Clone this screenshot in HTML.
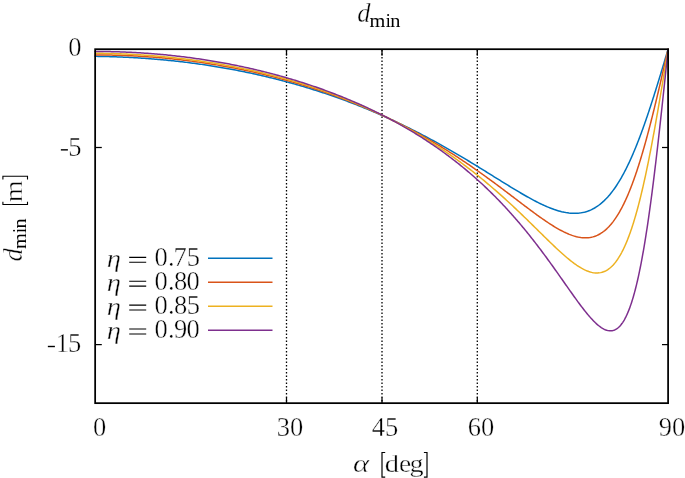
<!DOCTYPE html>
<html><head><meta charset="utf-8"><style>
html,body{margin:0;padding:0;background:#fff;}
svg{display:block;will-change:transform;}
text{font-family:"Liberation Serif",serif;fill:#000;stroke:#fff;stroke-width:0.4px;}
text.s{stroke:none;}
.i{font-style:italic;}
</style></head><body>
<svg width="685" height="478" viewBox="0 0 685 478">
<rect width="685" height="478" fill="#fff"/>
<g stroke="#000" stroke-width="1.3" stroke-dasharray="1.4 2.1" fill="none">
<line x1="286.5" y1="50" x2="286.5" y2="402.5"/>
<line x1="382" y1="50" x2="382" y2="402.5"/>
<line x1="477.3" y1="50" x2="477.3" y2="402.5"/>
</g>
<g stroke="#000" stroke-width="1.25" fill="none">
<line x1="95" y1="147.5" x2="101.8" y2="147.5"/>
<line x1="95" y1="344.6" x2="101.8" y2="344.6"/>
<line x1="662" y1="147.5" x2="668" y2="147.5"/>
<line x1="662" y1="344.6" x2="668" y2="344.6"/>
<line x1="286.5" y1="50" x2="286.5" y2="55.7"/>
<line x1="382" y1="50" x2="382" y2="55.7"/>
<line x1="477.3" y1="50" x2="477.3" y2="55.7"/>
<line x1="286.5" y1="397.5" x2="286.5" y2="403"/>
<line x1="382" y1="397.5" x2="382" y2="403"/>
<line x1="477.3" y1="397.5" x2="477.3" y2="403"/>
</g>
<g fill="none" stroke-width="1.5" stroke-linejoin="round" stroke-linecap="round">
<path stroke="#0072bd" d="M95.10,56.36 L96.60,56.37 L98.11,56.40 L99.61,56.42 L101.11,56.44 L102.62,56.47 L104.12,56.50 L105.62,56.54 L107.12,56.57 L108.63,56.61 L110.13,56.65 L111.63,56.70 L113.14,56.74 L114.64,56.79 L116.14,56.85 L117.64,56.90 L119.15,56.96 L120.65,57.02 L122.15,57.08 L123.65,57.14 L125.15,57.21 L126.65,57.28 L128.16,57.36 L129.66,57.43 L131.16,57.51 L132.66,57.59 L134.16,57.68 L135.66,57.76 L137.16,57.85 L138.66,57.95 L140.16,58.04 L141.66,58.14 L143.16,58.24 L144.66,58.34 L146.16,58.45 L147.66,58.56 L149.16,58.67 L150.66,58.78 L152.16,58.90 L153.66,59.02 L155.16,59.14 L156.65,59.27 L158.15,59.40 L159.65,59.53 L161.15,59.66 L162.64,59.80 L164.14,59.94 L165.64,60.08 L167.13,60.23 L168.63,60.38 L170.13,60.53 L171.62,60.68 L173.12,60.84 L174.61,61.00 L176.11,61.16 L177.60,61.33 L179.09,61.50 L180.59,61.67 L182.08,61.84 L183.57,62.02 L185.07,62.20 L186.56,62.38 L188.05,62.57 L189.54,62.76 L191.03,62.95 L192.52,63.14 L194.01,63.34 L195.50,63.54 L196.99,63.74 L198.48,63.95 L199.97,64.16 L201.46,64.37 L202.95,64.59 L204.43,64.81 L205.92,65.03 L207.41,65.25 L208.89,65.48 L210.38,65.71 L211.86,65.94 L213.35,66.18 L214.83,66.42 L216.32,66.66 L217.80,66.91 L219.28,67.15 L220.76,67.41 L222.25,67.66 L223.73,67.92 L225.21,68.18 L226.69,68.44 L228.17,68.71 L229.65,68.98 L231.13,69.25 L232.60,69.52 L234.08,69.80 L235.56,70.08 L237.03,70.37 L238.51,70.66 L239.98,70.95 L241.46,71.24 L242.93,71.54 L244.40,71.84 L245.88,72.14 L247.35,72.45 L248.82,72.76 L250.29,73.07 L251.76,73.38 L253.23,73.70 L254.70,74.02 L256.17,74.35 L257.63,74.68 L259.10,75.01 L260.57,75.34 L262.03,75.68 L263.50,76.02 L264.96,76.36 L266.42,76.71 L267.88,77.06 L269.35,77.41 L270.81,77.77 L272.27,78.13 L273.72,78.49 L275.18,78.85 L276.64,79.22 L278.10,79.59 L279.55,79.97 L281.01,80.34 L282.46,80.73 L283.92,81.11 L285.37,81.50 L286.82,81.89 L288.27,82.28 L289.72,82.68 L291.17,83.08 L292.62,83.48 L294.07,83.89 L295.51,84.30 L296.96,84.71 L298.40,85.12 L299.85,85.54 L301.29,85.97 L302.73,86.39 L304.17,86.82 L305.61,87.25 L307.05,87.69 L308.49,88.12 L309.93,88.57 L311.36,89.01 L312.80,89.46 L314.23,89.91 L315.67,90.36 L317.10,90.82 L318.53,91.28 L319.96,91.74 L321.39,92.21 L322.82,92.68 L324.24,93.15 L325.67,93.63 L327.09,94.11 L328.52,94.59 L329.94,95.08 L331.36,95.57 L332.78,96.06 L334.20,96.56 L335.62,97.06 L337.04,97.56 L338.45,98.06 L339.87,98.57 L341.28,99.08 L342.69,99.60 L344.10,100.12 L345.51,100.64 L346.92,101.16 L348.33,101.69 L349.74,102.22 L351.14,102.76 L352.55,103.29 L353.95,103.83 L355.35,104.38 L356.75,104.92 L358.15,105.47 L359.55,106.03 L360.94,106.58 L362.34,107.14 L363.73,107.71 L365.13,108.27 L366.52,108.84 L367.91,109.42 L369.30,109.99 L370.68,110.57 L372.07,111.15 L373.45,111.74 L374.84,112.33 L376.22,112.92 L377.60,113.51 L378.98,114.11 L380.36,114.71 L381.73,115.31 L383.11,115.92 L384.48,116.53 L385.86,117.15 L387.23,117.76 L388.60,118.38 L389.96,119.01 L391.33,119.63 L392.70,120.26 L394.06,120.89 L395.42,121.53 L396.78,122.17 L398.14,122.81 L399.50,123.45 L400.86,124.10 L402.22,124.75 L403.57,125.40 L404.92,126.06 L406.27,126.72 L407.62,127.38 L408.97,128.04 L410.32,128.71 L411.66,129.38 L413.01,130.06 L414.35,130.74 L415.69,131.42 L417.03,132.10 L418.37,132.78 L419.70,133.47 L421.04,134.16 L422.37,134.86 L423.70,135.55 L425.03,136.25 L426.36,136.96 L427.69,137.66 L429.02,138.37 L430.34,139.08 L431.67,139.79 L432.99,140.51 L434.31,141.23 L435.63,141.95 L436.94,142.67 L438.26,143.40 L439.58,144.13 L440.89,144.86 L442.20,145.59 L443.51,146.33 L444.82,147.07 L446.13,147.81 L447.44,148.55 L448.74,149.30 L450.05,150.05 L451.35,150.80 L452.65,151.55 L453.95,152.30 L455.25,153.06 L456.55,153.82 L457.84,154.58 L459.14,155.34 L460.43,156.11 L461.73,156.88 L463.02,157.64 L464.31,158.41 L465.60,159.19 L466.89,159.96 L468.17,160.74 L469.46,161.51 L470.75,162.29 L472.03,163.07 L473.32,163.86 L474.60,164.64 L475.88,165.42 L477.16,166.21 L478.44,167.00 L479.72,167.79 L481.00,168.57 L482.28,169.37 L483.56,170.16 L484.84,170.95 L486.11,171.74 L487.39,172.53 L488.67,173.33 L489.94,174.12 L491.22,174.92 L492.50,175.71 L493.77,176.51 L495.05,177.30 L496.32,178.10 L497.60,178.89 L498.88,179.69 L500.15,180.48 L501.43,181.27 L502.71,182.07 L503.99,182.86 L505.26,183.65 L506.54,184.44 L507.82,185.23 L509.11,186.01 L510.39,186.80 L511.67,187.58 L512.96,188.36 L514.24,189.14 L515.53,189.91 L516.82,190.69 L518.11,191.46 L519.41,192.22 L520.70,192.98 L522.00,193.74 L523.30,194.50 L524.60,195.25 L525.91,195.99 L527.22,196.73 L528.53,197.46 L529.85,198.19 L531.16,198.91 L532.49,199.63 L533.81,200.33 L535.15,201.03 L536.48,201.72 L537.82,202.40 L539.17,203.07 L540.52,203.73 L541.88,204.38 L543.24,205.01 L544.61,205.64 L545.98,206.25 L547.36,206.84 L548.75,207.42 L550.14,207.98 L551.55,208.52 L552.96,209.04 L554.37,209.55 L555.80,210.03 L557.23,210.48 L558.67,210.91 L560.12,211.31 L561.58,211.69 L563.04,212.03 L564.51,212.34 L565.99,212.61 L567.47,212.84 L568.96,213.04 L570.46,213.19 L571.96,213.30 L573.46,213.36 L574.97,213.37 L576.47,213.32 L577.97,213.23 L579.46,213.08 L580.95,212.88 L582.43,212.61 L583.90,212.29 L585.36,211.92 L586.80,211.48 L588.22,210.99 L589.62,210.44 L591.00,209.85 L592.35,209.20 L593.68,208.50 L594.99,207.75 L596.27,206.96 L597.52,206.13 L598.74,205.26 L599.94,204.35 L601.11,203.41 L602.26,202.43 L603.38,201.43 L604.47,200.40 L605.54,199.34 L606.58,198.26 L607.61,197.15 L608.60,196.03 L609.58,194.89 L610.54,193.73 L611.48,192.55 L612.39,191.36 L613.29,190.16 L614.17,188.94 L615.04,187.71 L615.89,186.47 L616.72,185.22 L617.54,183.96 L618.34,182.69 L619.13,181.41 L619.90,180.12 L620.67,178.82 L621.42,177.52 L622.15,176.21 L622.88,174.89 L623.60,173.57 L624.30,172.25 L625.00,170.91 L625.69,169.57 L626.36,168.23 L627.03,166.89 L627.69,165.53 L628.34,164.18 L628.98,162.82 L629.62,161.46 L630.24,160.09 L630.86,158.72 L631.48,157.35 L632.08,155.97 L632.68,154.59 L633.28,153.21 L633.86,151.83 L634.45,150.44 L635.02,149.05 L635.59,147.66 L636.16,146.27 L636.72,144.88 L637.27,143.48 L637.82,142.08 L638.37,140.68 L638.91,139.28 L639.45,137.87 L639.98,136.47 L640.51,135.06 L641.03,133.65 L641.55,132.24 L642.07,130.83 L642.59,129.42 L643.10,128.00 L643.60,126.59 L644.11,125.17 L644.61,123.75 L645.10,122.33 L645.60,120.91 L646.09,119.49 L646.58,118.07 L647.06,116.65 L647.55,115.22 L648.03,113.80 L648.51,112.37 L648.98,110.95 L649.45,109.52 L649.93,108.09 L650.40,106.67 L650.86,105.24 L651.33,103.81 L651.79,102.38 L652.25,100.95 L652.71,99.52 L653.17,98.08 L653.63,96.65 L654.08,95.22 L654.53,93.79 L654.99,92.35 L655.44,90.92 L655.89,89.48 L656.33,88.05 L656.78,86.61 L657.22,85.18 L657.67,83.74 L658.11,82.30 L658.55,80.87 L658.99,79.43 L659.43,77.99 L659.87,76.55 L660.31,75.11 L660.75,73.68 L661.18,72.24 L661.62,70.80 L662.05,69.36 L662.49,67.92 L662.92,66.48 L663.36,65.04 L663.79,63.60 L664.22,62.16 L664.65,60.72 L665.08,59.28 L665.52,57.84 L665.95,56.40 L666.38,54.96 L666.81,53.52 L667.24,52.08 L667.67,50.64 L668.10,49.20"/>
<path stroke="#d95319" d="M95.10,54.94 L96.61,54.94 L98.11,54.95 L99.62,54.95 L101.12,54.96 L102.63,54.98 L104.13,54.99 L105.64,55.01 L107.15,55.03 L108.65,55.06 L110.16,55.09 L111.66,55.12 L113.17,55.15 L114.67,55.19 L116.18,55.23 L117.68,55.27 L119.19,55.32 L120.69,55.37 L122.20,55.42 L123.70,55.48 L125.21,55.54 L126.71,55.60 L128.22,55.66 L129.72,55.73 L131.22,55.80 L132.73,55.87 L134.23,55.95 L135.73,56.03 L137.24,56.11 L138.74,56.20 L140.24,56.28 L141.75,56.38 L143.25,56.47 L144.75,56.57 L146.26,56.67 L147.76,56.77 L149.26,56.88 L150.76,56.99 L152.26,57.10 L153.76,57.22 L155.26,57.34 L156.77,57.46 L158.27,57.59 L159.77,57.71 L161.27,57.85 L162.77,57.98 L164.27,58.12 L165.76,58.26 L167.26,58.40 L168.76,58.55 L170.26,58.70 L171.76,58.85 L173.26,59.01 L174.75,59.17 L176.25,59.33 L177.75,59.49 L179.24,59.66 L180.74,59.83 L182.23,60.01 L183.73,60.19 L185.22,60.37 L186.72,60.55 L188.21,60.74 L189.71,60.93 L191.20,61.12 L192.69,61.32 L194.18,61.52 L195.68,61.72 L197.17,61.92 L198.66,62.13 L200.15,62.35 L201.64,62.56 L203.13,62.78 L204.62,63.00 L206.11,63.22 L207.60,63.45 L209.08,63.68 L210.57,63.92 L212.06,64.15 L213.55,64.39 L215.03,64.64 L216.52,64.88 L218.00,65.13 L219.49,65.39 L220.97,65.64 L222.45,65.90 L223.94,66.16 L225.42,66.43 L226.90,66.70 L228.38,66.97 L229.86,67.24 L231.34,67.52 L232.82,67.80 L234.30,68.09 L235.78,68.37 L237.25,68.67 L238.73,68.96 L240.21,69.26 L241.68,69.56 L243.16,69.86 L244.63,70.17 L246.10,70.48 L247.58,70.79 L249.05,71.11 L250.52,71.43 L251.99,71.75 L253.46,72.08 L254.93,72.41 L256.40,72.74 L257.87,73.07 L259.33,73.41 L260.80,73.76 L262.27,74.10 L263.73,74.45 L265.19,74.80 L266.66,75.16 L268.12,75.52 L269.58,75.88 L271.04,76.24 L272.50,76.61 L273.96,76.98 L275.42,77.36 L276.88,77.74 L278.33,78.12 L279.79,78.50 L281.24,78.89 L282.70,79.28 L284.15,79.68 L285.60,80.07 L287.05,80.48 L288.51,80.88 L289.95,81.29 L291.40,81.70 L292.85,82.11 L294.30,82.53 L295.74,82.95 L297.19,83.38 L298.63,83.81 L300.07,84.24 L301.52,84.67 L302.96,85.11 L304.40,85.55 L305.83,85.99 L307.27,86.44 L308.71,86.89 L310.14,87.35 L311.58,87.81 L313.01,88.27 L314.44,88.73 L315.87,89.20 L317.30,89.67 L318.73,90.15 L320.16,90.62 L321.59,91.11 L323.01,91.59 L324.44,92.08 L325.86,92.57 L327.28,93.07 L328.70,93.56 L330.12,94.07 L331.54,94.57 L332.96,95.08 L334.37,95.59 L335.79,96.11 L337.20,96.63 L338.61,97.15 L340.03,97.68 L341.44,98.21 L342.84,98.74 L344.25,99.27 L345.66,99.81 L347.06,100.36 L348.46,100.90 L349.87,101.45 L351.27,102.01 L352.66,102.56 L354.06,103.13 L355.46,103.69 L356.85,104.26 L358.25,104.83 L359.64,105.40 L361.03,105.98 L362.42,106.56 L363.80,107.15 L365.19,107.73 L366.58,108.33 L367.96,108.92 L369.34,109.52 L370.72,110.12 L372.10,110.73 L373.48,111.34 L374.85,111.95 L376.23,112.57 L377.60,113.18 L378.97,113.81 L380.34,114.43 L381.70,115.06 L383.07,115.70 L384.44,116.34 L385.80,116.98 L387.16,117.62 L388.52,118.27 L389.88,118.92 L391.23,119.57 L392.59,120.23 L393.94,120.89 L395.29,121.56 L396.64,122.23 L397.99,122.90 L399.33,123.57 L400.68,124.25 L402.02,124.93 L403.36,125.62 L404.70,126.31 L406.03,127.00 L407.37,127.70 L408.70,128.40 L410.03,129.10 L411.36,129.81 L412.69,130.52 L414.02,131.23 L415.34,131.95 L416.66,132.67 L417.98,133.39 L419.30,134.12 L420.62,134.85 L421.93,135.58 L423.25,136.32 L424.56,137.06 L425.87,137.80 L427.17,138.55 L428.48,139.30 L429.78,140.06 L431.09,140.81 L432.38,141.57 L433.68,142.34 L434.98,143.10 L436.27,143.88 L437.56,144.65 L438.85,145.43 L440.14,146.21 L441.43,146.99 L442.71,147.78 L443.99,148.57 L445.27,149.36 L446.55,150.15 L447.83,150.95 L449.10,151.76 L450.37,152.56 L451.64,153.37 L452.91,154.18 L454.18,154.99 L455.44,155.81 L456.71,156.63 L457.97,157.46 L459.23,158.28 L460.48,159.11 L461.74,159.94 L462.99,160.78 L464.24,161.62 L465.49,162.46 L466.74,163.30 L467.98,164.15 L469.23,164.99 L470.47,165.85 L471.71,166.70 L472.95,167.56 L474.18,168.41 L475.42,169.28 L476.65,170.14 L477.88,171.01 L479.11,171.88 L480.34,172.75 L481.57,173.62 L482.79,174.50 L484.02,175.37 L485.24,176.25 L486.46,177.14 L487.68,178.02 L488.89,178.91 L490.11,179.79 L491.33,180.68 L492.54,181.58 L493.75,182.47 L494.96,183.37 L496.17,184.26 L497.38,185.16 L498.59,186.06 L499.79,186.96 L501.00,187.87 L502.20,188.77 L503.40,189.67 L504.61,190.58 L505.81,191.49 L507.01,192.40 L508.21,193.31 L509.41,194.22 L510.61,195.13 L511.81,196.04 L513.01,196.95 L514.20,197.86 L515.40,198.77 L516.60,199.68 L517.80,200.59 L519.00,201.50 L520.20,202.42 L521.40,203.33 L522.60,204.24 L523.80,205.14 L525.00,206.05 L526.20,206.96 L527.41,207.86 L528.61,208.77 L529.82,209.67 L531.02,210.57 L532.23,211.46 L533.45,212.36 L534.66,213.25 L535.88,214.14 L537.09,215.02 L538.32,215.90 L539.54,216.78 L540.77,217.65 L542.00,218.51 L543.23,219.37 L544.47,220.23 L545.72,221.08 L546.97,221.92 L548.22,222.75 L549.48,223.58 L550.74,224.40 L552.01,225.20 L553.29,226.00 L554.58,226.79 L555.87,227.56 L557.17,228.32 L558.48,229.07 L559.79,229.80 L561.12,230.51 L562.46,231.20 L563.80,231.88 L565.16,232.53 L566.53,233.16 L567.91,233.76 L569.30,234.33 L570.71,234.87 L572.12,235.38 L573.55,235.85 L575.00,236.28 L576.45,236.67 L577.92,237.01 L579.40,237.29 L580.88,237.52 L582.38,237.69 L583.88,237.80 L585.39,237.83 L586.89,237.79 L588.39,237.68 L589.89,237.49 L591.37,237.22 L592.83,236.87 L594.28,236.45 L595.70,235.94 L597.09,235.36 L598.44,234.72 L599.77,234.00 L601.06,233.23 L602.31,232.39 L603.53,231.51 L604.71,230.57 L605.86,229.60 L606.97,228.58 L608.05,227.53 L609.09,226.45 L610.11,225.33 L611.09,224.19 L612.05,223.03 L612.98,221.85 L613.88,220.64 L614.76,219.42 L615.62,218.18 L616.45,216.93 L617.26,215.66 L618.06,214.38 L618.83,213.09 L619.59,211.79 L620.33,210.48 L621.06,209.16 L621.77,207.83 L622.46,206.49 L623.14,205.15 L623.81,203.80 L624.47,202.45 L625.11,201.09 L625.74,199.72 L626.36,198.35 L626.97,196.97 L627.58,195.59 L628.17,194.21 L628.75,192.82 L629.32,191.42 L629.89,190.03 L630.44,188.63 L630.99,187.23 L631.53,185.82 L632.07,184.42 L632.60,183.01 L633.12,181.59 L633.63,180.18 L634.14,178.76 L634.64,177.34 L635.14,175.92 L635.63,174.50 L636.11,173.07 L636.59,171.64 L637.07,170.21 L637.54,168.78 L638.01,167.35 L638.47,165.92 L638.92,164.48 L639.38,163.05 L639.83,161.61 L640.27,160.17 L640.71,158.73 L641.15,157.29 L641.58,155.85 L642.01,154.41 L642.44,152.96 L642.86,151.52 L643.28,150.07 L643.70,148.62 L644.11,147.18 L644.52,145.73 L644.93,144.28 L645.33,142.83 L645.74,141.38 L646.14,139.93 L646.53,138.47 L646.93,137.02 L647.32,135.57 L647.71,134.11 L648.10,132.66 L648.49,131.20 L648.87,129.75 L649.25,128.29 L649.63,126.83 L650.01,125.38 L650.39,123.92 L650.76,122.46 L651.13,121.00 L651.50,119.54 L651.87,118.08 L652.24,116.62 L652.61,115.16 L652.97,113.70 L653.33,112.24 L653.70,110.78 L654.06,109.31 L654.42,107.85 L654.77,106.39 L655.13,104.93 L655.48,103.46 L655.84,102.00 L656.19,100.54 L656.54,99.07 L656.89,97.61 L657.24,96.14 L657.59,94.68 L657.94,93.21 L658.29,91.75 L658.63,90.28 L658.98,88.82 L659.32,87.35 L659.67,85.89 L660.01,84.42 L660.35,82.95 L660.69,81.49 L661.03,80.02 L661.38,78.55 L661.71,77.09 L662.05,75.62 L662.39,74.15 L662.73,72.69 L663.07,71.22 L663.41,69.75 L663.74,68.28 L664.08,66.82 L664.42,65.35 L664.75,63.88 L665.09,62.41 L665.42,60.94 L665.76,59.48 L666.09,58.01 L666.43,56.54 L666.76,55.07 L667.10,53.60 L667.43,52.14 L667.77,50.67 L668.10,49.20"/>
<path stroke="#edb120" d="M95.10,53.26 L96.60,53.27 L98.11,53.29 L99.61,53.31 L101.12,53.33 L102.62,53.36 L104.13,53.38 L105.63,53.41 L107.13,53.45 L108.64,53.48 L110.14,53.52 L111.65,53.56 L113.15,53.60 L114.65,53.65 L116.16,53.70 L117.66,53.75 L119.17,53.81 L120.67,53.86 L122.17,53.92 L123.68,53.99 L125.18,54.05 L126.68,54.12 L128.18,54.19 L129.69,54.27 L131.19,54.34 L132.69,54.42 L134.19,54.50 L135.70,54.59 L137.20,54.68 L138.70,54.77 L140.20,54.86 L141.70,54.96 L143.20,55.06 L144.71,55.16 L146.21,55.27 L147.71,55.37 L149.21,55.49 L150.71,55.60 L152.21,55.72 L153.71,55.84 L155.21,55.96 L156.71,56.09 L158.21,56.21 L159.70,56.35 L161.20,56.48 L162.70,56.62 L164.20,56.76 L165.70,56.90 L167.19,57.05 L168.69,57.20 L170.19,57.35 L171.68,57.50 L173.18,57.66 L174.68,57.82 L176.17,57.99 L177.67,58.15 L179.16,58.32 L180.66,58.50 L182.15,58.67 L183.64,58.85 L185.14,59.04 L186.63,59.22 L188.12,59.41 L189.62,59.60 L191.11,59.79 L192.60,59.99 L194.09,60.19 L195.58,60.40 L197.07,60.60 L198.56,60.81 L200.05,61.03 L201.54,61.24 L203.03,61.46 L204.52,61.68 L206.00,61.91 L207.49,62.14 L208.98,62.37 L210.46,62.60 L211.95,62.84 L213.43,63.08 L214.92,63.33 L216.40,63.57 L217.89,63.82 L219.37,64.08 L220.85,64.34 L222.33,64.60 L223.81,64.86 L225.30,65.13 L226.78,65.39 L228.26,65.67 L229.73,65.94 L231.21,66.22 L232.69,66.51 L234.17,66.79 L235.64,67.08 L237.12,67.37 L238.60,67.67 L240.07,67.97 L241.54,68.27 L243.02,68.57 L244.49,68.88 L245.96,69.19 L247.43,69.51 L248.90,69.83 L250.37,70.15 L251.84,70.47 L253.31,70.80 L254.78,71.13 L256.24,71.47 L257.71,71.80 L259.18,72.15 L260.64,72.49 L262.10,72.84 L263.57,73.19 L265.03,73.54 L266.49,73.90 L267.95,74.26 L269.41,74.63 L270.87,75.00 L272.33,75.37 L273.78,75.74 L275.24,76.12 L276.70,76.50 L278.15,76.89 L279.60,77.28 L281.06,77.67 L282.51,78.06 L283.96,78.46 L285.41,78.87 L286.86,79.27 L288.31,79.68 L289.75,80.09 L291.20,80.51 L292.64,80.93 L294.09,81.35 L295.53,81.78 L296.97,82.21 L298.41,82.64 L299.85,83.08 L301.29,83.52 L302.73,83.96 L304.16,84.41 L305.60,84.86 L307.03,85.32 L308.47,85.77 L309.90,86.24 L311.33,86.70 L312.76,87.17 L314.19,87.64 L315.62,88.12 L317.04,88.60 L318.47,89.08 L319.89,89.57 L321.31,90.06 L322.73,90.55 L324.15,91.05 L325.57,91.55 L326.99,92.06 L328.41,92.56 L329.82,93.08 L331.23,93.59 L332.65,94.11 L334.06,94.63 L335.47,95.16 L336.87,95.69 L338.28,96.22 L339.69,96.76 L341.09,97.30 L342.49,97.85 L343.89,98.40 L345.29,98.95 L346.69,99.51 L348.09,100.07 L349.48,100.63 L350.87,101.20 L352.27,101.77 L353.66,102.34 L355.05,102.92 L356.43,103.50 L357.82,104.09 L359.20,104.68 L360.58,105.27 L361.97,105.87 L363.34,106.47 L364.72,107.08 L366.10,107.69 L367.47,108.30 L368.84,108.92 L370.21,109.54 L371.58,110.16 L372.95,110.79 L374.32,111.42 L375.68,112.06 L377.04,112.70 L378.40,113.34 L379.76,113.99 L381.12,114.64 L382.47,115.29 L383.82,115.95 L385.17,116.62 L386.52,117.28 L387.87,117.95 L389.21,118.63 L390.56,119.31 L391.90,119.99 L393.24,120.67 L394.57,121.36 L395.91,122.06 L397.24,122.76 L398.57,123.46 L399.90,124.16 L401.23,124.87 L402.55,125.59 L403.88,126.30 L405.20,127.03 L406.51,127.75 L407.83,128.48 L409.14,129.21 L410.46,129.95 L411.76,130.69 L413.07,131.44 L414.38,132.19 L415.68,132.94 L416.98,133.69 L418.28,134.45 L419.57,135.22 L420.87,135.99 L422.16,136.76 L423.45,137.54 L424.73,138.32 L426.02,139.10 L427.30,139.89 L428.58,140.68 L429.86,141.48 L431.13,142.27 L432.40,143.08 L433.67,143.89 L434.94,144.70 L436.20,145.51 L437.47,146.33 L438.73,147.15 L439.98,147.98 L441.24,148.81 L442.49,149.64 L443.74,150.48 L444.99,151.32 L446.23,152.17 L447.47,153.02 L448.71,153.87 L449.95,154.73 L451.18,155.59 L452.41,156.46 L453.64,157.32 L454.87,158.20 L456.09,159.07 L457.31,159.95 L458.53,160.83 L459.75,161.72 L460.96,162.61 L462.17,163.50 L463.38,164.40 L464.58,165.30 L465.78,166.21 L466.98,167.12 L468.18,168.03 L469.37,168.94 L470.57,169.86 L471.75,170.78 L472.94,171.71 L474.12,172.64 L475.30,173.57 L476.48,174.51 L477.66,175.45 L478.83,176.39 L480.00,177.34 L481.17,178.29 L482.33,179.24 L483.49,180.19 L484.65,181.15 L485.81,182.11 L486.96,183.08 L488.12,184.05 L489.26,185.02 L490.41,185.99 L491.55,186.97 L492.70,187.95 L493.83,188.94 L494.97,189.92 L496.10,190.91 L497.23,191.90 L498.36,192.90 L499.49,193.89 L500.61,194.89 L501.74,195.90 L502.85,196.90 L503.97,197.91 L505.09,198.92 L506.20,199.93 L507.31,200.95 L508.42,201.97 L509.52,202.99 L510.63,204.01 L511.73,205.03 L512.83,206.06 L513.93,207.09 L515.02,208.12 L516.12,209.15 L517.21,210.19 L518.30,211.23 L519.39,212.26 L520.47,213.30 L521.56,214.35 L522.64,215.39 L523.73,216.43 L524.81,217.48 L525.89,218.53 L526.97,219.58 L528.04,220.63 L529.12,221.68 L530.20,222.73 L531.27,223.78 L532.35,224.84 L533.42,225.89 L534.49,226.94 L535.56,228.00 L536.64,229.06 L537.71,230.11 L538.78,231.17 L539.85,232.22 L540.92,233.28 L542.00,234.33 L543.07,235.39 L544.14,236.44 L545.22,237.50 L546.29,238.55 L547.37,239.60 L548.45,240.65 L549.53,241.69 L550.61,242.74 L551.69,243.78 L552.78,244.82 L553.87,245.86 L554.96,246.90 L556.06,247.93 L557.16,248.96 L558.26,249.98 L559.37,251.00 L560.48,252.01 L561.60,253.02 L562.72,254.02 L563.85,255.02 L564.98,256.00 L566.12,256.98 L567.27,257.95 L568.43,258.91 L569.60,259.86 L570.78,260.80 L571.96,261.72 L573.16,262.63 L574.37,263.53 L575.60,264.40 L576.83,265.26 L578.09,266.09 L579.36,266.90 L580.64,267.68 L581.95,268.43 L583.27,269.14 L584.62,269.81 L585.99,270.44 L587.37,271.02 L588.79,271.54 L590.22,271.99 L591.68,272.38 L593.15,272.67 L594.64,272.88 L596.14,272.99 L597.64,272.98 L599.14,272.87 L600.63,272.63 L602.09,272.28 L603.52,271.81 L604.91,271.23 L606.25,270.55 L607.54,269.78 L608.78,268.93 L609.97,268.01 L611.11,267.02 L612.20,265.98 L613.24,264.90 L614.24,263.77 L615.19,262.61 L616.11,261.42 L617.00,260.20 L617.85,258.96 L618.67,257.70 L619.46,256.42 L620.23,255.13 L620.97,253.82 L621.69,252.50 L622.38,251.16 L623.06,249.82 L623.72,248.47 L624.36,247.10 L624.98,245.74 L625.59,244.36 L626.18,242.98 L626.77,241.59 L627.33,240.20 L627.89,238.80 L628.43,237.39 L628.96,235.99 L629.48,234.58 L630.00,233.16 L630.50,231.74 L630.99,230.32 L631.47,228.90 L631.95,227.47 L632.42,226.04 L632.88,224.61 L633.33,223.17 L633.78,221.74 L634.22,220.30 L634.65,218.86 L635.08,217.41 L635.50,215.97 L635.92,214.52 L636.33,213.08 L636.73,211.63 L637.13,210.18 L637.53,208.72 L637.92,207.27 L638.30,205.82 L638.68,204.36 L639.06,202.90 L639.43,201.45 L639.80,199.99 L640.17,198.53 L640.53,197.07 L640.89,195.61 L641.24,194.15 L641.59,192.68 L641.94,191.22 L642.29,189.75 L642.63,188.29 L642.97,186.82 L643.30,185.36 L643.63,183.89 L643.96,182.42 L644.29,180.95 L644.62,179.48 L644.94,178.01 L645.26,176.54 L645.58,175.07 L645.89,173.60 L646.21,172.13 L646.52,170.66 L646.82,169.19 L647.13,167.71 L647.44,166.24 L647.74,164.77 L648.04,163.29 L648.34,161.82 L648.64,160.34 L648.93,158.87 L649.23,157.39 L649.52,155.92 L649.81,154.44 L650.10,152.96 L650.38,151.49 L650.67,150.01 L650.95,148.53 L651.24,147.05 L651.52,145.58 L651.80,144.10 L652.08,142.62 L652.36,141.14 L652.63,139.66 L652.91,138.18 L653.18,136.70 L653.45,135.22 L653.73,133.74 L654.00,132.26 L654.27,130.78 L654.53,129.30 L654.80,127.82 L655.07,126.34 L655.33,124.86 L655.60,123.38 L655.86,121.90 L656.12,120.42 L656.39,118.94 L656.65,117.45 L656.91,115.97 L657.17,114.49 L657.43,113.01 L657.68,111.53 L657.94,110.04 L658.20,108.56 L658.45,107.08 L658.71,105.60 L658.96,104.11 L659.22,102.63 L659.47,101.15 L659.72,99.66 L659.98,98.18 L660.23,96.70 L660.48,95.21 L660.73,93.73 L660.98,92.25 L661.23,90.76 L661.48,89.28 L661.73,87.80 L661.98,86.31 L662.22,84.83 L662.47,83.34 L662.72,81.86 L662.97,80.38 L663.21,78.89 L663.46,77.41 L663.70,75.92 L663.95,74.44 L664.20,72.95 L664.44,71.47 L664.69,69.98 L664.93,68.50 L665.18,67.02 L665.42,65.53 L665.66,64.05 L665.91,62.56 L666.15,61.08 L666.40,59.59 L666.64,58.11 L666.88,56.62 L667.13,55.14 L667.37,53.65 L667.61,52.17 L667.86,50.68 L668.10,49.20"/>
<path stroke="#7e2f8e" d="M95.10,51.47 L96.60,51.47 L98.11,51.47 L99.61,51.48 L101.11,51.49 L102.61,51.50 L104.12,51.52 L105.62,51.54 L107.12,51.56 L108.62,51.59 L110.13,51.62 L111.63,51.65 L113.13,51.68 L114.63,51.72 L116.13,51.76 L117.64,51.81 L119.14,51.85 L120.64,51.91 L122.14,51.96 L123.64,52.02 L125.14,52.08 L126.65,52.14 L128.15,52.20 L129.65,52.27 L131.15,52.35 L132.65,52.42 L134.15,52.50 L135.65,52.58 L137.15,52.67 L138.65,52.75 L140.15,52.85 L141.65,52.94 L143.15,53.04 L144.65,53.14 L146.15,53.24 L147.65,53.35 L149.15,53.46 L150.64,53.57 L152.14,53.69 L153.64,53.81 L155.14,53.93 L156.63,54.05 L158.13,54.18 L159.63,54.31 L161.13,54.45 L162.62,54.59 L164.12,54.73 L165.61,54.87 L167.11,55.02 L168.60,55.17 L170.10,55.32 L171.59,55.48 L173.09,55.64 L174.58,55.80 L176.07,55.97 L177.57,56.14 L179.06,56.31 L180.55,56.49 L182.04,56.67 L183.54,56.85 L185.03,57.04 L186.52,57.23 L188.01,57.42 L189.50,57.61 L190.99,57.81 L192.48,58.01 L193.96,58.22 L195.45,58.43 L196.94,58.64 L198.43,58.85 L199.91,59.07 L201.40,59.29 L202.89,59.51 L204.37,59.74 L205.86,59.97 L207.34,60.21 L208.83,60.44 L210.31,60.68 L211.79,60.93 L213.27,61.17 L214.75,61.42 L216.24,61.68 L217.72,61.93 L219.20,62.19 L220.68,62.46 L222.15,62.72 L223.63,62.99 L225.11,63.26 L226.59,63.54 L228.06,63.82 L229.54,64.10 L231.02,64.39 L232.49,64.68 L233.96,64.97 L235.44,65.27 L236.91,65.57 L238.38,65.87 L239.85,66.18 L241.32,66.49 L242.79,66.80 L244.26,67.11 L245.73,67.43 L247.20,67.76 L248.66,68.08 L250.13,68.41 L251.60,68.74 L253.06,69.08 L254.52,69.42 L255.99,69.76 L257.45,70.11 L258.91,70.46 L260.37,70.81 L261.83,71.17 L263.29,71.53 L264.75,71.89 L266.20,72.26 L267.66,72.63 L269.12,73.00 L270.57,73.38 L272.02,73.76 L273.48,74.15 L274.93,74.53 L276.38,74.93 L277.83,75.32 L279.28,75.72 L280.73,76.12 L282.17,76.52 L283.62,76.93 L285.06,77.34 L286.51,77.76 L287.95,78.18 L289.39,78.60 L290.83,79.03 L292.27,79.46 L293.71,79.89 L295.15,80.33 L296.59,80.77 L298.02,81.21 L299.46,81.66 L300.89,82.11 L302.32,82.57 L303.75,83.03 L305.18,83.49 L306.61,83.95 L308.04,84.42 L309.47,84.90 L310.89,85.37 L312.31,85.85 L313.74,86.34 L315.16,86.82 L316.58,87.32 L318.00,87.81 L319.41,88.31 L320.83,88.81 L322.25,89.32 L323.66,89.83 L325.07,90.34 L326.48,90.86 L327.89,91.38 L329.30,91.90 L330.71,92.43 L332.11,92.97 L333.51,93.50 L334.92,94.04 L336.32,94.59 L337.72,95.13 L339.11,95.69 L340.51,96.24 L341.91,96.80 L343.30,97.36 L344.69,97.93 L346.08,98.50 L347.47,99.08 L348.85,99.65 L350.24,100.24 L351.62,100.82 L353.01,101.41 L354.39,102.01 L355.76,102.61 L357.14,103.21 L358.52,103.81 L359.89,104.42 L361.26,105.04 L362.63,105.66 L364.00,106.28 L365.36,106.91 L366.73,107.54 L368.09,108.17 L369.45,108.81 L370.81,109.45 L372.17,110.10 L373.52,110.75 L374.87,111.40 L376.22,112.06 L377.57,112.72 L378.92,113.39 L380.26,114.06 L381.61,114.73 L382.95,115.41 L384.28,116.10 L385.62,116.78 L386.95,117.48 L388.29,118.17 L389.62,118.87 L390.94,119.58 L392.27,120.28 L393.59,121.00 L394.91,121.71 L396.23,122.43 L397.55,123.16 L398.86,123.89 L400.17,124.62 L401.48,125.36 L402.79,126.10 L404.09,126.85 L405.39,127.60 L406.69,128.35 L407.99,129.11 L409.28,129.87 L410.58,130.64 L411.87,131.41 L413.15,132.19 L414.44,132.97 L415.72,133.75 L417.00,134.54 L418.27,135.34 L419.55,136.13 L420.82,136.94 L422.09,137.74 L423.35,138.55 L424.61,139.37 L425.87,140.19 L427.13,141.01 L428.38,141.84 L429.63,142.67 L430.88,143.51 L432.13,144.35 L433.37,145.19 L434.61,146.04 L435.85,146.90 L437.08,147.75 L438.31,148.62 L439.54,149.48 L440.76,150.36 L441.98,151.23 L443.20,152.11 L444.42,152.99 L445.63,153.88 L446.84,154.78 L448.04,155.67 L449.25,156.57 L450.44,157.48 L451.64,158.39 L452.83,159.30 L454.02,160.22 L455.21,161.14 L456.39,162.07 L457.57,163.00 L458.75,163.94 L459.92,164.88 L461.09,165.82 L462.25,166.77 L463.42,167.72 L464.58,168.68 L465.73,169.64 L466.88,170.60 L468.03,171.57 L469.18,172.54 L470.32,173.52 L471.46,174.50 L472.59,175.49 L473.72,176.48 L474.85,177.47 L475.97,178.47 L477.09,179.47 L478.21,180.47 L479.32,181.48 L480.43,182.50 L481.54,183.51 L482.64,184.54 L483.74,185.56 L484.84,186.59 L485.93,187.62 L487.01,188.66 L488.10,189.70 L489.18,190.74 L490.26,191.79 L491.33,192.84 L492.40,193.90 L493.46,194.96 L494.53,196.02 L495.58,197.09 L496.64,198.16 L497.69,199.23 L498.74,200.31 L499.78,201.39 L500.82,202.48 L501.86,203.56 L502.89,204.66 L503.92,205.75 L504.94,206.85 L505.97,207.95 L506.98,209.06 L508.00,210.16 L509.01,211.28 L510.02,212.39 L511.02,213.51 L512.02,214.63 L513.02,215.76 L514.01,216.88 L515.00,218.01 L515.99,219.15 L516.97,220.28 L517.95,221.42 L518.92,222.57 L519.90,223.71 L520.87,224.86 L521.83,226.01 L522.79,227.17 L523.75,228.32 L524.71,229.48 L525.66,230.64 L526.61,231.81 L527.56,232.98 L528.50,234.15 L529.44,235.32 L530.38,236.49 L531.31,237.67 L532.24,238.85 L533.17,240.03 L534.09,241.22 L535.02,242.40 L535.93,243.59 L536.85,244.78 L537.76,245.98 L538.67,247.17 L539.58,248.37 L540.49,249.57 L541.39,250.77 L542.29,251.97 L543.19,253.18 L544.09,254.38 L544.98,255.59 L545.87,256.80 L546.76,258.01 L547.64,259.23 L548.53,260.44 L549.41,261.66 L550.29,262.87 L551.17,264.09 L552.05,265.31 L552.92,266.53 L553.80,267.76 L554.67,268.98 L555.54,270.20 L556.41,271.43 L557.28,272.66 L558.15,273.88 L559.01,275.11 L559.88,276.34 L560.74,277.57 L561.61,278.80 L562.47,280.03 L563.34,281.26 L564.20,282.49 L565.06,283.72 L565.93,284.95 L566.79,286.17 L567.65,287.40 L568.52,288.63 L569.39,289.86 L570.25,291.09 L571.12,292.31 L571.99,293.54 L572.86,294.76 L573.73,295.99 L574.61,297.21 L575.49,298.43 L576.37,299.64 L577.25,300.86 L578.14,302.07 L579.03,303.28 L579.93,304.49 L580.83,305.69 L581.74,306.89 L582.65,308.08 L583.57,309.27 L584.50,310.45 L585.44,311.63 L586.38,312.80 L587.33,313.96 L588.30,315.11 L589.27,316.25 L590.26,317.38 L591.26,318.50 L592.28,319.61 L593.32,320.70 L594.37,321.76 L595.45,322.81 L596.55,323.83 L597.68,324.83 L598.84,325.78 L600.03,326.70 L601.26,327.57 L602.53,328.37 L603.84,329.10 L605.20,329.73 L606.61,330.25 L608.07,330.63 L609.55,330.84 L611.06,330.85 L612.54,330.65 L613.99,330.25 L615.37,329.65 L616.66,328.89 L617.87,328.00 L618.99,327.00 L620.04,325.92 L621.01,324.78 L621.93,323.58 L622.78,322.35 L623.59,321.08 L624.35,319.79 L625.08,318.47 L625.77,317.14 L626.42,315.78 L627.06,314.42 L627.66,313.05 L628.24,311.66 L628.80,310.27 L629.34,308.86 L629.87,307.45 L630.37,306.04 L630.86,304.62 L631.34,303.20 L631.81,301.77 L632.26,300.33 L632.70,298.90 L633.13,297.46 L633.54,296.01 L633.95,294.57 L634.35,293.12 L634.74,291.67 L635.13,290.21 L635.50,288.76 L635.87,287.30 L636.23,285.84 L636.59,284.38 L636.94,282.92 L637.28,281.46 L637.62,280.00 L637.95,278.53 L638.27,277.06 L638.59,275.59 L638.91,274.13 L639.22,272.66 L639.53,271.18 L639.83,269.71 L640.13,268.24 L640.42,266.77 L640.71,265.29 L641.00,263.82 L641.28,262.34 L641.56,260.87 L641.84,259.39 L642.11,257.91 L642.38,256.43 L642.65,254.95 L642.92,253.48 L643.18,252.00 L643.44,250.52 L643.69,249.03 L643.95,247.55 L644.20,246.07 L644.45,244.59 L644.69,243.11 L644.94,241.63 L645.18,240.14 L645.42,238.66 L645.66,237.18 L645.89,235.69 L646.12,234.21 L646.36,232.72 L646.59,231.24 L646.81,229.75 L647.04,228.27 L647.26,226.78 L647.49,225.29 L647.71,223.81 L647.93,222.32 L648.14,220.83 L648.36,219.35 L648.58,217.86 L648.79,216.37 L649.00,214.89 L649.21,213.40 L649.42,211.91 L649.63,210.42 L649.83,208.93 L650.04,207.44 L650.24,205.96 L650.45,204.47 L650.65,202.98 L650.85,201.49 L651.05,200.00 L651.25,198.51 L651.44,197.02 L651.64,195.53 L651.83,194.04 L652.03,192.55 L652.22,191.06 L652.41,189.57 L652.60,188.08 L652.79,186.59 L652.98,185.10 L653.17,183.61 L653.36,182.12 L653.55,180.63 L653.73,179.13 L653.92,177.64 L654.10,176.15 L654.28,174.66 L654.47,173.17 L654.65,171.68 L654.83,170.19 L655.01,168.69 L655.19,167.20 L655.37,165.71 L655.55,164.22 L655.73,162.73 L655.90,161.23 L656.08,159.74 L656.25,158.25 L656.43,156.76 L656.60,155.26 L656.78,153.77 L656.95,152.28 L657.12,150.79 L657.30,149.29 L657.47,147.80 L657.64,146.31 L657.81,144.82 L657.98,143.32 L658.15,141.83 L658.32,140.34 L658.49,138.84 L658.66,137.35 L658.83,135.86 L658.99,134.36 L659.16,132.87 L659.33,131.38 L659.49,129.88 L659.66,128.39 L659.83,126.90 L659.99,125.40 L660.16,123.91 L660.32,122.42 L660.48,120.92 L660.65,119.43 L660.81,117.94 L660.97,116.44 L661.14,114.95 L661.30,113.45 L661.46,111.96 L661.62,110.47 L661.78,108.97 L661.95,107.48 L662.11,105.98 L662.27,104.49 L662.43,103.00 L662.59,101.50 L662.75,100.01 L662.91,98.51 L663.07,97.02 L663.23,95.53 L663.39,94.03 L663.55,92.54 L663.70,91.04 L663.86,89.55 L664.02,88.05 L664.18,86.56 L664.34,85.07 L664.50,83.57 L664.65,82.08 L664.81,80.58 L664.97,79.09 L665.13,77.59 L665.28,76.10 L665.44,74.61 L665.60,73.11 L665.75,71.62 L665.91,70.12 L666.07,68.63 L666.22,67.13 L666.38,65.64 L666.54,64.14 L666.69,62.65 L666.85,61.16 L667.01,59.66 L667.16,58.17 L667.32,56.67 L667.48,55.18 L667.63,53.68 L667.79,52.19 L667.94,50.69 L668.10,49.20"/>
<line stroke="#0072bd" x1="208" y1="258.3" x2="272.5" y2="258.3" stroke-linecap="butt"/>
<line stroke="#d95319" x1="208" y1="282.2" x2="272.5" y2="282.2" stroke-linecap="butt"/>
<line stroke="#edb120" x1="208" y1="306.2" x2="272.5" y2="306.2" stroke-linecap="butt"/>
<line stroke="#7e2f8e" x1="208" y1="330.2" x2="272.5" y2="330.2" stroke-linecap="butt"/>
</g>
<rect x="95.15" y="49.2" width="572.95" height="353.95" fill="none" stroke="#000" stroke-width="1.75"/>
<g font-size="26.5">
<text x="99.6" y="436" text-anchor="middle">0</text>
<text x="290" y="436" text-anchor="middle">30</text>
<text x="385.1" y="436" text-anchor="middle">45</text>
<text x="481.1" y="436" text-anchor="middle">60</text>
<text x="672" y="436" text-anchor="middle">90</text>
</g>
<g transform="translate(357.23,22.3)"><text x="-0.03" y="0.00" font-size="26.5" class="i">d</text>
<text transform="translate(12.31,4.20) scale(1.13,1)" font-size="18" class="s">m</text>
<text x="28.46" y="4.20" font-size="18" class="s">i</text>
<text transform="translate(32.91,4.20) scale(1.13,1)" font-size="18" class="s">n</text></g>
<g transform="translate(21.9,261.4) rotate(-90)"><text x="-0.03" y="0.00" font-size="26.5" class="i">d</text>
<text transform="translate(12.31,4.20) scale(1.13,1)" font-size="18" class="s">m</text>
<text x="28.46" y="4.20" font-size="18" class="s">i</text>
<text transform="translate(32.91,4.20) scale(1.13,1)" font-size="18" class="s">n</text>
<path d="M59.6,-19.0 H56.9 V5.6 H59.6" fill="none" stroke="#000" stroke-width="1.1"/>
<text transform="translate(59.17,0.00) scale(1.12,1)" font-size="25">m</text>
<path d="M81.8,-19.0 H85.1 V5.6 H81.8" fill="none" stroke="#000" stroke-width="1.1"/></g>
<text transform="translate(353.06,471.90) scale(1.28,1)" font-size="24.2" class="i">α</text>
<path d="M385.2,452.5 H382.0 V477.2 H385.2" fill="none" stroke="#000" stroke-width="1.2"/>
<text transform="translate(384.72,471.90) scale(1.12,1)" font-size="25.5">d</text>
<text transform="translate(398.96,471.90) scale(1.1,1)" font-size="25">e</text>
<text transform="translate(409.53,471.90) scale(1.13,1)" font-size="25">g</text>
<path d="M423.9,452.5 H427.0 V477.2 H423.9" fill="none" stroke="#000" stroke-width="1.2"/>
<text transform="translate(106.72,267.40) scale(1.15,1)" font-size="25" class="i">η</text>
<path d="M129.2,257.35 H146.2 M129.2,262.25 H146.2" stroke="#000" stroke-width="1.1" fill="none"/>
<text x="154.40" y="266.40" font-size="26.5">0</text>
<text x="168.10" y="266.40" font-size="26.5">.</text>
<text x="173.50" y="266.40" font-size="26.5">7</text>
<text x="186.70" y="266.40" font-size="26.5">5</text>
<text transform="translate(106.72,291.30) scale(1.15,1)" font-size="25" class="i">η</text>
<path d="M129.2,281.25 H146.2 M129.2,286.15 H146.2" stroke="#000" stroke-width="1.1" fill="none"/>
<text x="154.40" y="290.30" font-size="26.5">0</text>
<text x="168.10" y="290.30" font-size="26.5">.</text>
<text x="174.00" y="290.30" font-size="26.5">8</text>
<text x="186.60" y="290.30" font-size="26.5">0</text>
<text transform="translate(106.72,315.20) scale(1.15,1)" font-size="25" class="i">η</text>
<path d="M129.2,305.15 H146.2 M129.2,310.05 H146.2" stroke="#000" stroke-width="1.1" fill="none"/>
<text x="154.40" y="314.20" font-size="26.5">0</text>
<text x="168.10" y="314.20" font-size="26.5">.</text>
<text x="174.00" y="314.20" font-size="26.5">8</text>
<text x="186.70" y="314.20" font-size="26.5">5</text>
<text transform="translate(106.72,339.10) scale(1.15,1)" font-size="25" class="i">η</text>
<path d="M129.2,329.05 H146.2 M129.2,333.95 H146.2" stroke="#000" stroke-width="1.1" fill="none"/>
<text x="154.40" y="338.10" font-size="26.5">0</text>
<text x="168.10" y="338.10" font-size="26.5">.</text>
<text x="174.10" y="338.10" font-size="26.5">9</text>
<text x="186.60" y="338.10" font-size="26.5">0</text>
<text x="68.30" y="56.40" font-size="26.5">0</text>
<rect x="60.85" y="149.15" width="7.05" height="1.4" fill="#000"/>
<text x="68.30" y="155.60" font-size="26.5">5</text>
<rect x="47.85" y="345.8" width="7.05" height="1.4" fill="#000"/>
<text x="55.70" y="352.00" font-size="26.5">1</text>
<text x="68.00" y="352.00" font-size="26.5">5</text>
</svg>
</body></html>
